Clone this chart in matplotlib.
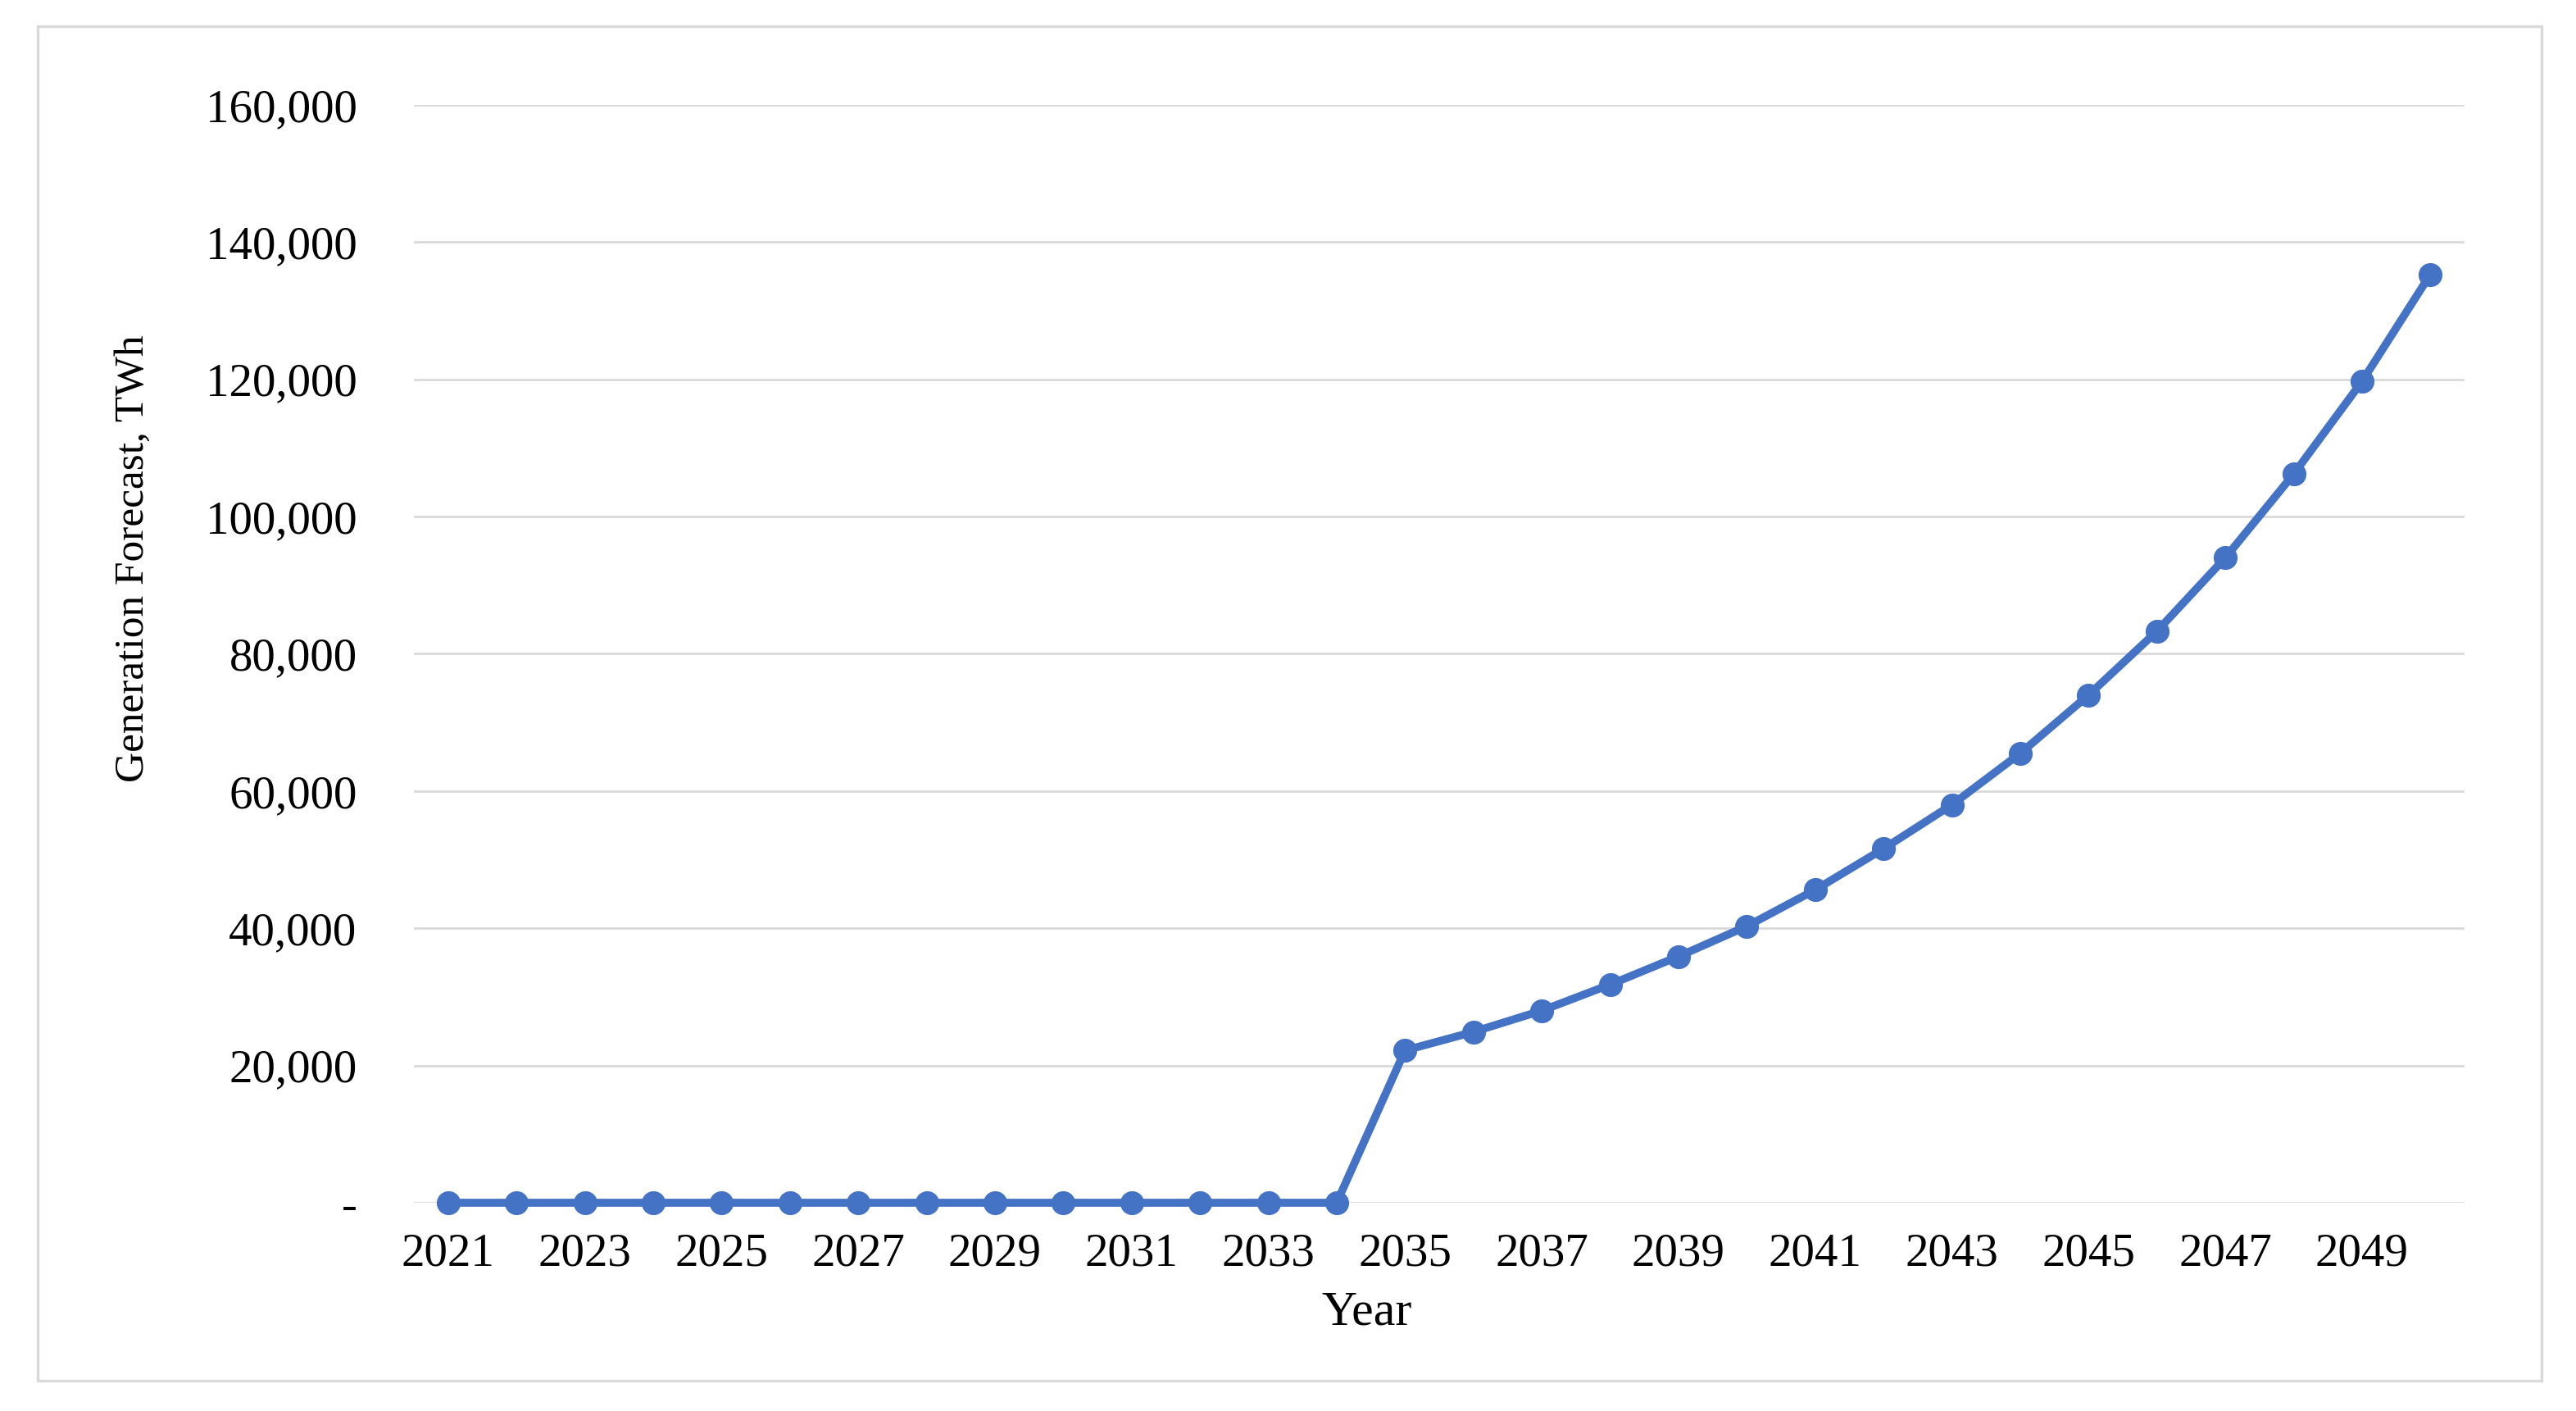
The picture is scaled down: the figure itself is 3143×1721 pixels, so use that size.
import matplotlib
matplotlib.use("Agg")
import matplotlib.pyplot as plt
from matplotlib.patches import Rectangle
from matplotlib.ticker import FixedLocator

years = list(range(2021, 2051))
generation = [0, 0, 0, 0, 0, 0, 0, 0, 0, 0, 0, 0, 0, 0,
              22200, 24900, 28000, 31800, 35900, 40300, 45600, 51600,
              58000, 65500, 74000, 83300, 94000, 106200, 119700, 135300]
y_ticks = [0, 20000, 40000, 60000, 80000, 100000, 120000, 140000, 160000]
y_tick_labels = ["-", "20,000", "40,000", "60,000", "80,000", "100,000",
                 "120,000", "140,000", "160,000"]
x_tick_years = list(range(2021, 2051, 2))

W, H = 3143, 1721
DPI = 200
plt.rcParams['font.family'] = ['Liberation Serif', 'DejaVu Serif']
FS = 20.5

fig = plt.figure(figsize=(W / DPI, H / DPI), dpi=DPI)
fig.patch.set_facecolor("white")

# outer chart border
fig.patches.append(Rectangle((46 / W, 1 - 1684 / H), (3101 - 46) / W, (1684 - 32) / H,
                             transform=fig.transFigure, fill=False,
                             edgecolor="#D9D9D9", linewidth=1.2))

ax = fig.add_axes([505 / W, 1 - 1467 / H, (3007 - 505) / W, (1467 - 128) / H])
ax.plot(years, generation, color="#4472C4", linewidth=3.5, marker="o",
        markersize=9.5, clip_on=False, zorder=3)

ax.set_xlim(2020.5, 2050.5)
ax.set_ylim(0, 160000)
ax.yaxis.set_major_locator(FixedLocator(y_ticks))
ax.set_yticklabels(y_tick_labels)
ax.set_xticks(x_tick_years)
ax.set_xticklabels([str(y) for y in x_tick_years])
ax.grid(axis="y", color="#D9D9D9", linewidth=1.0)
ax.set_axisbelow(True)
for s in ax.spines.values():
    s.set_visible(False)
ax.tick_params(axis="both", length=0, labelsize=FS, colors="black")
ax.tick_params(axis="x", pad=13)
ax.tick_params(axis="y", pad=25)

fig.text(163 / W, 1 - 681 / H, "Generation Forecast, TWh", rotation=90,
         ha="center", va="center", fontsize=18.5)
fig.text(1668 / W, 1 - 1602 / H, "Year", ha="center", va="center", fontsize=21.5)

fig.savefig("out.png", dpi=DPI, facecolor="white")
